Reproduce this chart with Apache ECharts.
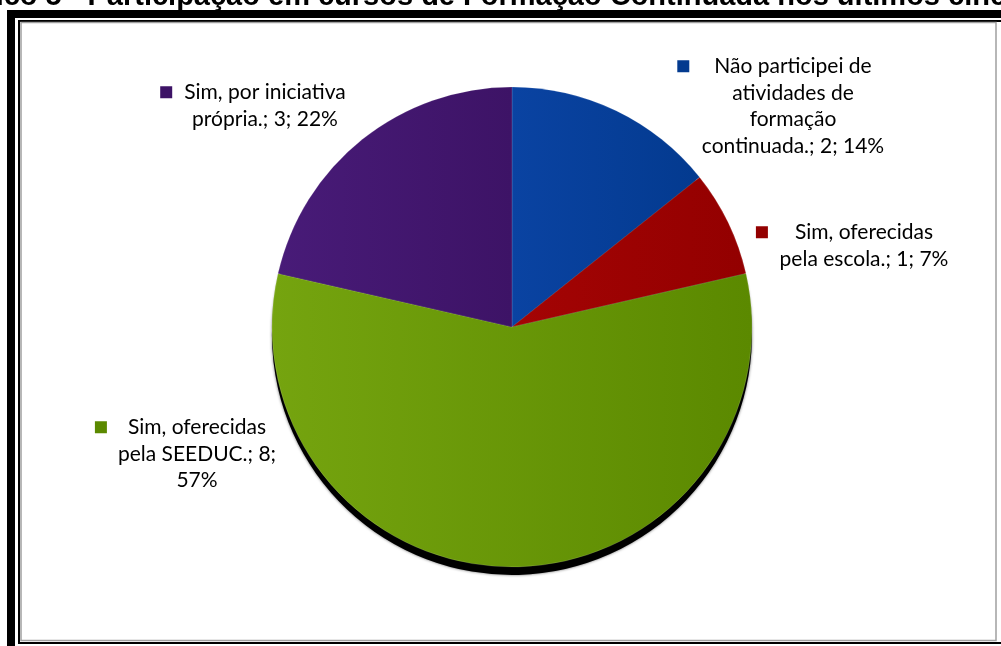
<!DOCTYPE html>
<html>
<head>
<meta charset="utf-8">
<script src="https://cdn.jsdelivr.net/npm/echarts@6/dist/echarts.min.js"></script>
<style>
  html, body { margin: 0; padding: 0; background: #fff; overflow: hidden; }
  #chart { width: 1001px; height: 646px; }
</style>
</head>
<body>
<div id="chart"></div>
<script>
// Survey answers: participation in continuing-education courses
const categories = [
  'Não participei de atividades de formação continuada.',
  'Sim, oferecidas pela escola.',
  'Sim, oferecidas pela SEEDUC.',
  'Sim, por iniciativa própria.'
];
const counts = [2, 1, 8, 3];
const percents = [14, 7, 57, 22];
const titleText = 'Gráfico 5 - Participação em cursos de Formação Continuada nos últimos cinco anos';

// slice fills (light edge, dark edge)
const sliceColors = [
  ['#0a43a2', '#033a8f'],
  ['#a40404', '#930000'],
  ['#75a40f', '#5b8900'],
  ['#481b78', '#3d1366']
];

// label placement: text-block centre x, top y, marker gap, wrap width
const labelSpots = [
  { x: 793, y: 53, gap: 25, wrap: 190 },
  { x: 864, y: 219, gap: 27, wrap: 175 },
  { x: 197, y: 414, gap: 21, wrap: 160 },
  { x: 265, y: 79, gap: 12, wrap: 172 }
];

const LABEL_FONT = 'Lato';
const LABEL_SIZE = 21;
const LINE_H = 26.5;
const KEY = 12;
const PIE_CENTER = [512, 327];
const PIE_R = 240;

const ctx = document.createElement('canvas').getContext('2d');
ctx.font = LABEL_SIZE + 'px ' + LABEL_FONT;
function wrapText(text, maxW) {
  const words = text.split(' ');
  const lines = [];
  let cur = '';
  words.forEach(w => {
    const test = cur ? cur + ' ' + w : w;
    if (cur && ctx.measureText(test).width > maxW) {
      lines.push(cur);
      cur = w;
    } else {
      cur = test;
    }
  });
  if (cur) lines.push(cur);
  return lines;
}

function grad(c) {
  return new echarts.graphic.LinearGradient(0, 0, 1, 0, [
    { offset: 0, color: c[0] },
    { offset: 1, color: c[1] }
  ]);
}

const rich = { t: { fontFamily: LABEL_FONT, fontSize: LABEL_SIZE, color: '#000', lineHeight: LINE_H } };
labelSpots.forEach((s, i) => {
  rich['k' + i] = { width: KEY, height: KEY, backgroundColor: sliceColors[i][1], lineHeight: LINE_H };
  rich['g' + i] = { width: s.gap, lineHeight: LINE_H };
  rich['s' + i] = { width: KEY + s.gap, lineHeight: LINE_H };
});

const pieData = categories.map((name, i) => ({
  name: name,
  value: counts[i],
  itemStyle: { color: grad(sliceColors[i]) }
}));

// dark rim under the disc, same slices shifted downward
const rimData = categories.map((name, i) => ({ name: name, value: counts[i] }));

const chart = echarts.init(document.getElementById('chart'), null, { renderer: 'canvas' });
chart.setOption({
  backgroundColor: '#fff',
  animation: false,
  title: {
    text: titleText,
    left: -64,
    top: -18,
    padding: 0,
    textStyle: { fontFamily: 'Liberation Sans', fontWeight: 'bold', fontSize: 29, color: '#000' }
  },
  graphic: [
    // outer heavy frame
    { type: 'rect', silent: true, z: 100,
      shape: { x: 11, y: 14, width: 1010, height: 650 },
      style: { fill: null, stroke: '#000', lineWidth: 8 } },
    // inner thin frame
    { type: 'rect', silent: true, z: 100,
      shape: { x: 19, y: 21, width: 985, height: 622 },
      style: { fill: null, stroke: '#000', lineWidth: 2 } },
    { type: 'rect', silent: true, z: 100,
      shape: { x: 21, y: 22.5, width: 975, height: 618 },
      style: { fill: null, stroke: '#a0a0a0', lineWidth: 1.5 } }
  ],
  series: [{
    type: 'pie',
    silent: true,
    z: 1,
    center: [PIE_CENTER[0], PIE_CENTER[1] + 8],
    radius: PIE_R,
    startAngle: 90,
    clockwise: true,
    label: { show: false },
    labelLine: { show: false },
    itemStyle: { color: '#000', borderWidth: 0, shadowColor: 'rgba(0,0,0,0.6)', shadowBlur: 3 },
    emphasis: { disabled: true },
    data: rimData
  }, {
    type: 'pie',
    z: 2,
    center: PIE_CENTER,
    radius: PIE_R,
    startAngle: 90,
    clockwise: true,
    avoidLabelOverlap: false,
    itemStyle: { borderColor: 'rgba(255,255,255,0.22)', borderWidth: 0.6 },
    emphasis: { disabled: true },
    labelLine: { show: false },
    label: {
      show: true,
      position: 'outside',
      align: 'center',
      formatter: function (p) {
        const i = p.dataIndex;
        const text = categories[i] + '; ' + counts[i] + '; ' + percents[i] + '%';
        const lines = wrapText(text, labelSpots[i].wrap);
        return lines.map((ln, j) => j === 0
          ? '{k' + i + '| }{g' + i + '|}{t|' + ln + '}{s' + i + '|}'
          : '{t|' + ln + '}').join('\n');
      },
      rich: rich
    },
    labelLayout: function (params) {
      const s = labelSpots[params.dataIndex];
      return { x: s.x, y: s.y, align: 'center', verticalAlign: 'top' };
    },
    data: pieData
  }]
});
</script>
</body>
</html>
